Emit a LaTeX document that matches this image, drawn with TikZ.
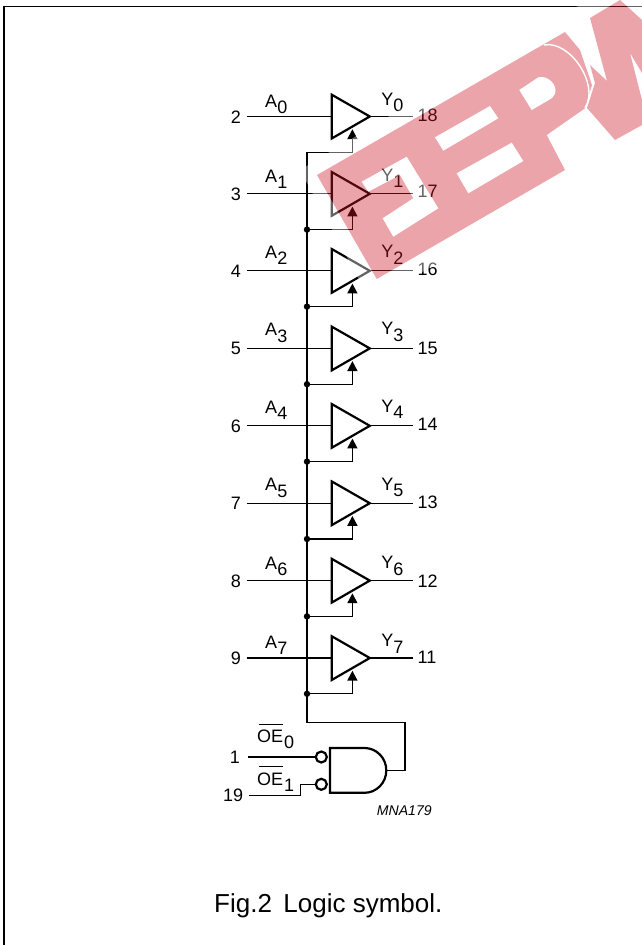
\documentclass[tikz,border=0pt]{standalone}
\usepackage{fontspec}
\setmainfont{Liberation Sans}
\tikzset{
  wire/.style={line width=1.25pt,black},
  sym/.style={line width=2.2pt,black,line join=miter},
  lbl/.style={inner sep=0pt,font=\fontsize{18}{18}\selectfont,text=black},
  fig/.style={inner sep=0pt,font=\fontsize{26}{26}\selectfont},
  tag/.style={inner sep=0pt,font=\fontsize{14.1}{14.1}\selectfont\itshape},
  dotn/.style={circle,fill=black,inner sep=0pt,minimum size=6.4pt},
  bub/.style={circle,draw=black,line width=2.2pt,fill=white,inner sep=0pt,minimum size=11pt},
}
\definecolor{wmk}{RGB}{205,25,38}
\begin{document}
\begin{tikzpicture}[x=1pt,y=-1pt]
\useasboundingbox (0,0) rectangle (642,945);
\fill[white] (0,0) rectangle (642,945);
% frame
\draw[line width=1.4pt,black] (3.8,945) -- (3.8,6.5) -- (642,6.5);
% rows: index / input pin / output pin / wire y / pin y (right) / A base / A sub base / Y base / Y sub base
\foreach \i/\p/\q/\y/\r/\ab/\as/\yb/\ys in {
  0/2/18/116.5/115.3/107.3/113.5/105/111.2,
  1/3/17/193.8/191.8/182.7/188.9/181/187.6,
  2/4/16/270.8/269.3/258.3/264.5/257.3/264,
  3/5/15/348.4/348.3/335.7/342/334.3/341.5,
  4/6/14/425.8/424.8/413.3/419.3/412.7/418.5,
  5/7/13/503.2/502.6/490.7/497.3/490/496.7,
  6/8/12/580.6/580.8/569/575.2/568.3/575,
  7/9/11/658/657.2/648/654.5/646.7/653.3}{
  \coordinate (in\i) at (246.7,\y);
  \coordinate (tl\i) at (331.7,\y-21.8);
  \coordinate (bl\i) at (331.7,\y+22);
  \coordinate (lf\i) at (331.7,\y);
  \coordinate (tip\i) at (369.8,\y);
  \coordinate (out\i) at (413.3,\y);
  \coordinate (arr\i) at (352.4,\y+12.8);
  \coordinate (bus\i) at (307,\y+35.8);
  \coordinate (cor\i) at (352.4,\y+35.8);
  \draw[wire] (in\i) -- (lf\i);
  \draw[wire] (tip\i) -- (out\i);
  \draw[sym] (tl\i) -- (tip\i) -- (bl\i) -- cycle;
  \draw[wire] (bus\i) -- (cor\i) -- ([yshift=-6pt]arr\i);
  \fill (arr\i) -- ++(5.2,9.8) -- ++(-10.4,0) -- cycle;
  \node[lbl,anchor=east] (pl\i) at (241,\y+.3) {\p};
  \node[lbl,anchor=west] (pr\i) at (417.4,\r) {\q};
  \node[lbl,anchor=base west] (la\i) at (265,\ab) {A};
  \node[lbl,anchor=base west] (ls\i) at (277.2,\as) {\i};
  \node[lbl,anchor=base west] (ly\i) at (381.2,\yb) {Y};
  \node[lbl,anchor=base west] (lz\i) at (393.2,\ys) {\i};
}
\foreach \i in {1,...,7}{\node[dotn] (dot\i) at (bus\i) {};}
% bus and enable
\coordinate (bend) at (307,722.3);
\coordinate (bendr) at (405,722.3);
\coordinate (gout) at (386,770.3);
\coordinate (grt) at (405,770.3);
\draw[wire] (bus0) -- (bend) -- (bendr) -- (grt) -- (gout);
% AND gate
\draw[sym] (330,748) -- (364.5,748) .. controls (376.5,748) and (386.3,758) .. (386.3,770.4) .. controls (386.3,782.8) and (376.5,792.8) .. (364.5,792.8) -- (330,792.8) -- cycle;
\node[bub] (b0) at (321.3,757) {};
\node[bub] (b1) at (321.3,784.3) {};
\coordinate (p1) at (248.3,757);
\coordinate (p19) at (249,795.7);
\coordinate (k) at (300.7,795.7);
\coordinate (k2) at (300.7,784.3);
\draw[wire] (p1) -- (b0.west);
\draw[wire] (p19) -- (k) -- (k2) -- (b1.west);
\node[lbl,anchor=east] (n1) at (240,757.5) {1};
\node[lbl,anchor=east] (n19) at (243.3,795.5) {19};
\node[lbl,anchor=base west] (oe0) at (256.8,742.7) {OE};
\node[lbl,anchor=base west] (oes0) at (283.8,748.7) {0};
\draw[line width=1pt] (258.5,724.2) -- (283,724.2);
\node[lbl,anchor=base west] (oe1) at (256.8,785) {OE};
\node[lbl,anchor=base west] (oes1) at (283.8,791) {1};
\draw[line width=1pt] (258.5,766.7) -- (283,766.7);
\node[tag,anchor=base west] (mna) at (376.7,815) {MNA179};
\node[fig,anchor=base west] (figc) at (214,912) {Fig.2\hspace{.44em}Logic symbol.};
% watermark
\begin{scope}[transparency group,opacity=.39]
\fill[white] (300,170) -- (565,10) -- (600,0) -- (642,0) -- (642,150) -- (615,162) -- (575,190) -- (370,300) -- cycle;
\fill[wmk] (317,175) -- (565,32) -- (580,50) -- (592,85) -- (585,108.3) -- (546.7,135) -- (565,170) -- (376.7,279) -- cycle;
\fill[wmk] (590,18) -- (620,0) -- (642,20) -- (642,73) -- (630,53) -- (642,100) -- (642,125) -- (615,140) -- (587,108) -- (595,83) -- (590,65) -- (607,81) -- cycle;
\fill[white] (361.7,181.7) -- (406.7,156.7) -- (438.3,208.3) -- (393.3,236.7) -- (382.7,218.3) -- (413.3,198.3) -- (400,175) -- (368.3,191.7) -- cycle;
\fill[white] (435,137.3) -- (490,106) -- (498.3,118.3) -- (443.3,150.7) -- cycle;
\fill[white] (456.7,173.3) -- (511.7,142.7) -- (523.3,161) -- (468.3,193.3) -- cycle;
\fill[white] (519.3,90) -- (538.3,77.3) .. controls (548,75) and (558,85) .. (555,94) -- (551.7,98.3) -- (531.7,110) -- cycle;
\draw[white,line width=1.4pt] (544,45) .. controls (570,40) and (600,85) .. (585,108);
\end{scope}
\end{tikzpicture}
\end{document}
